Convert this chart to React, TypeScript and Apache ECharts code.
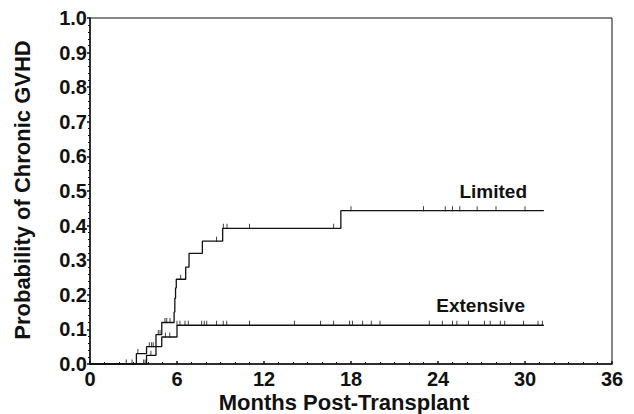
import { useEffect, useRef } from "react";
import * as echarts from "echarts";

// Kaplan-Meier style step data: [month, cumulative probability from that month on]
const limitedSteps: [number, number][] = [
  [0, 0], [3.2, 0.03], [3.9, 0.05], [4.55, 0.085], [4.95, 0.12], [5.8, 0.15], [5.85, 0.19],
  [5.9, 0.22], [5.95, 0.245], [6.6, 0.28], [6.83, 0.32], [7.75, 0.355], [9.15, 0.392],
  [17.3, 0.443], [31.3, 0.443],
];
const extensiveSteps: [number, number][] = [
  [0, 0], [3.9, 0.025], [4.55, 0.05], [4.95, 0.078], [6.0, 0.112], [31.3, 0.112],
];
// censoring times (months)
const limitedCensor: number[] = [
  2.5, 2.9, 3.3, 4.09, 4.25, 4.36, 4.71, 4.83, 5.17, 5.29, 5.52, 6.25, 8.73, 9.2, 9.45,
  11.0, 16.8, 18.0, 23.0, 24.5, 25.0, 25.5, 26.7, 28.0, 30.0,
];
const extensiveCensor: number[] = [
  3.7, 3.8, 4.2, 5.2, 5.5, 6.0, 6.2, 6.55, 6.78, 7.7, 7.88, 8.05, 8.73, 9.19, 9.43, 11.0,
  14.1, 15.9, 16.8, 17.9, 18.1, 18.8, 19.4, 20.0, 23.4, 24.3, 25.0, 25.3, 26.1, 27.2, 27.6,
  28.3, 28.6, 29.9, 30.9, 31.2,
];
const xTicks = [0, 6, 12, 18, 24, 30, 36];
const yTicks = [0, 0.1, 0.2, 0.3, 0.4, 0.5, 0.6, 0.7, 0.8, 0.9, 1.0];
const seriesNames = ["Limited", "Extensive"];

function levelAt(steps: [number, number][], t: number): number {
  let v = 0;
  for (const [x, y] of steps) {
    if (x <= t) v = y;
  }
  return v;
}

const FONT = "'Liberation Sans', Arial, Helvetica, sans-serif";

export default function App() {
  const ref = useRef<HTMLDivElement>(null);
  useEffect(() => {
    if (!ref.current) return;
    const chart = echarts.init(ref.current, undefined, { renderer: "svg" });
    const tickSym = "path://M0 0 H1 V6 H0 Z";
    const censorSeries = (name: string, times: number[], steps: [number, number][]) => ({
      name: name + " censored",
      type: "scatter",
      data: times.map((t) => [t, levelAt(steps, t)]),
      symbol: tickSym,
      symbolSize: [1, 5],
      symbolOffset: [0, -2],
      itemStyle: { color: "#111" },
      silent: true,
    });
    chart.setOption({
      animation: false,
      backgroundColor: "#fff",
      grid: {
        left: 90, right: 22, top: 18, bottom: 50,
        show: true, borderColor: "#111", borderWidth: 1,
      },
      xAxis: {
        type: "value", min: xTicks[0], max: xTicks[xTicks.length - 1], interval: 6,
        axisLine: { lineStyle: { color: "#111", width: 1.5 } },
        axisTick: { inside: true, length: 3, lineStyle: { color: "#111", width: 1.5 } },
        minorTick: { show: true, splitNumber: 6, length: 2, lineStyle: { color: "#111" } },
        splitLine: { show: false },
        axisLabel: {
          color: "#111", fontSize: 20, fontWeight: "bold", fontFamily: FONT, margin: 5,
        },
      },
      yAxis: {
        type: "value", min: yTicks[0], max: yTicks[yTicks.length - 1], interval: 0.1,
        axisLine: { show: true, lineStyle: { color: "#111", width: 1.5 } },
        axisTick: { show: true, length: 3, lineStyle: { color: "#111", width: 1.5 } },
        minorTick: { show: true, splitNumber: 5, length: 2, lineStyle: { color: "#111" } },
        splitLine: { show: false },
        axisLabel: {
          color: "#111", fontSize: 20, fontWeight: "bold", fontFamily: FONT, margin: 3,
          formatter: (v: number) => v.toFixed(1),
        },
      },
      graphic: [
        {
          type: "text", x: 344, y: 402,
          style: {
            text: "Months Post-Transplant", fill: "#111", font: `bold 22px ${FONT}`,
            textAlign: "center", textVerticalAlign: "middle",
          },
        },
        {
          type: "text", x: 22, y: 190, rotation: Math.PI / 2,
          style: {
            text: "Probability of Chronic GVHD", fill: "#111", font: `bold 22px ${FONT}`,
            textAlign: "center", textVerticalAlign: "middle",
          },
        },
        {
          type: "text", x: 527, y: 191,
          style: {
            text: seriesNames[0], fill: "#111", font: `bold 19px ${FONT}`,
            textAlign: "right", textVerticalAlign: "middle",
          },
        },
        {
          type: "text", x: 525, y: 305,
          style: {
            text: seriesNames[1], fill: "#111", font: `bold 19px ${FONT}`,
            textAlign: "right", textVerticalAlign: "middle",
          },
        },
      ],
      series: [
        {
          name: seriesNames[0], type: "line", step: "end", data: limitedSteps,
          showSymbol: false, lineStyle: { color: "#111", width: 1.3 }, silent: true,
        },
        {
          name: seriesNames[1], type: "line", step: "end", data: extensiveSteps,
          showSymbol: false, lineStyle: { color: "#111", width: 1.3 }, silent: true,
        },
        censorSeries(seriesNames[0], limitedCensor, limitedSteps),
        censorSeries(seriesNames[1], extensiveCensor, extensiveSteps),
      ],
    });
    return () => chart.dispose();
  }, []);
  return <div ref={ref} style={{ width: 634, height: 414, position: "absolute", left: 0, top: 0 }} />;
}
